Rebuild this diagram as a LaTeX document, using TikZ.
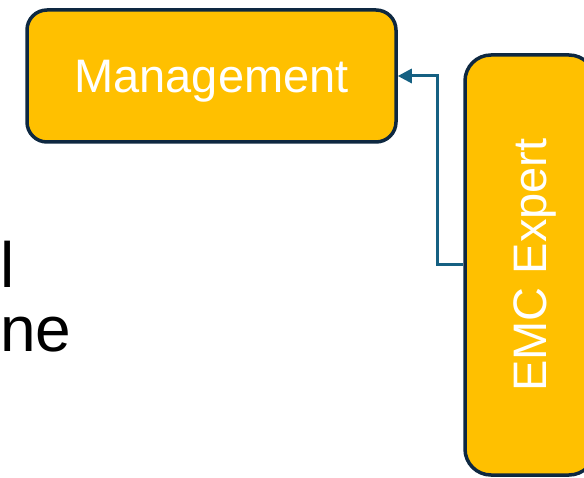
\documentclass[tikz,border=0pt]{standalone}
\usepackage{fontspec}
\setmainfont{Liberation Sans}
\usetikzlibrary{arrows.meta}

\definecolor{boxfill}{HTML}{FFC000}
\definecolor{boxline}{HTML}{0E2841}
\definecolor{linkblue}{HTML}{156082}

\tikzset{
  rolebox/.style={draw=boxline, line width=3.5pt, fill=boxfill, text=white,
    font=\fontsize{47}{56}\selectfont, text depth=0pt, inner sep=0pt},
  link/.style={draw=linkblue, line width=3pt, -{Triangle[length=14pt,width=14pt]}}
}

\begin{document}
\begin{tikzpicture}[x=1pt, y=-1pt]
        \useasboundingbox (0,0) rectangle (584,478);
        \clip (0,0) rectangle (584,478);

        \node[rolebox, rounded corners=20pt, minimum width=369pt, minimum height=132pt] (mgmt) at (211.5,76) {Management};
        % text runs upwards, so the node's north side faces left
        \node[rolebox, rounded corners=26pt, rotate=90, minimum width=420pt, minimum height=130pt] (expert) at (530,265) {EMC Expert};

        % body text at the left side
        \node[anchor=base west, inner sep=0pt, font=\fontsize{64}{64}\selectfont] (txtA) at (0,288) {l};
        \node[anchor=base west, inner sep=0pt, font=\fontsize{64}{64}\selectfont] (txtB) at (0,352) {ne};

        \draw[link] (expert.north) -- ++(-26,0) |- (mgmt.east);
        \end{tikzpicture}
\end{document}
